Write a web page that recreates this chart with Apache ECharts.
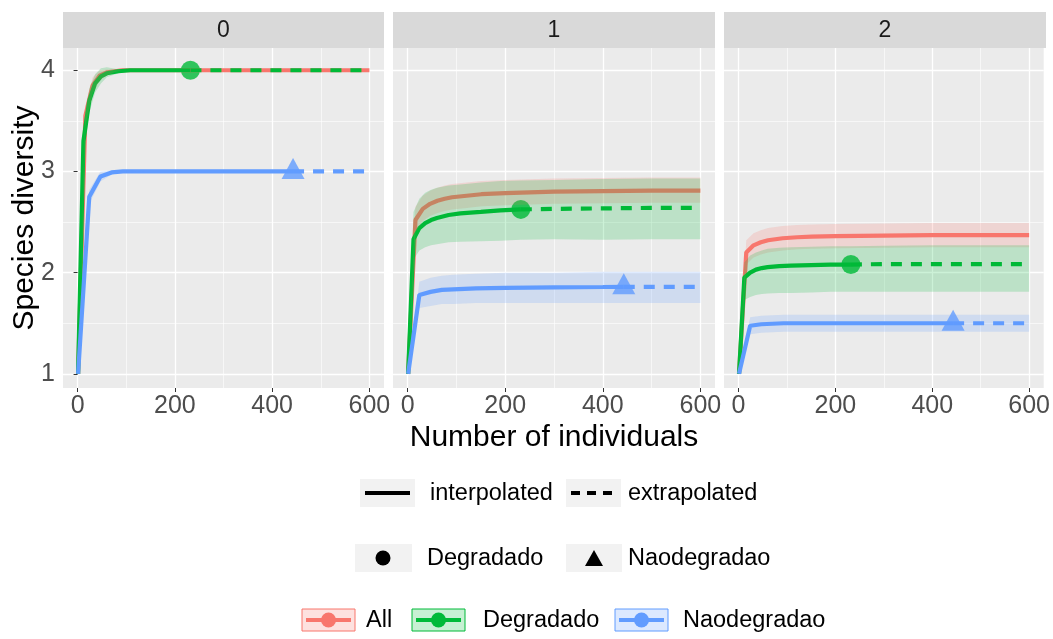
<!DOCTYPE html>
<html>
<head>
<meta charset="utf-8">
<title>Species diversity</title>
<script src="https://cdn.jsdelivr.net/npm/echarts@6/dist/echarts.min.js"></script>
<style>
html, body { margin: 0; padding: 0; background: #fff; }
#chart { width: 1053px; height: 639px; }
</style>
</head>
<body>
<div id="chart"></div>
<script>
// facets (diversity order q) and assemblages
const panels = ['0', '1', '2'];
const groups = ['All', 'Degradado', 'Naodegradao'];
const groupColors = ['#F8766D', '#00BA38', '#619CFF'];
const observedSize = [675, 232, 443];
const pointShape = [null, 'circle', 'triangle'];

// sample sizes (x) for each assemblage
const sizeAll = [1, 16, 31, 46, 61, 76, 91, 121, 151, 200, 300, 400, 500, 600];
const sizeDeg = [1, 12, 24, 36, 48, 60, 84, 108, 150, 190, 232, 300, 400, 500, 600];
const sizeNao = [1, 24, 47, 70, 93, 140, 200, 300, 400, 443, 500, 600];

// q = 0
const allQ0 = [1, 3.55, 3.85, 3.95, 3.98, 3.99, 4, 4, 4, 4, 4, 4, 4, 4];
const allQ0Lo = [1, 3.45, 3.77, 3.9, 3.95, 3.98, 4, 4, 4, 4, 4, 4, 4, 4];
const allQ0Hi = [1, 3.65, 3.93, 4.0, 4.01, 4.0, 4, 4, 4, 4, 4, 4, 4, 4];
const degQ0 = [1, 3.3, 3.7, 3.87, 3.94, 3.97, 3.99, 4, 4, 4, 4, 4, 4, 4, 4];
const degQ0Lo = [1, 3.15, 3.58, 3.78, 3.87, 3.93, 3.97, 3.99, 4, 4, 4, 4, 4, 4, 4];
const degQ0Hi = [1, 3.45, 3.82, 3.96, 4.02, 4.03, 4.01, 4.01, 4, 4, 4, 4, 4, 4, 4];
const naoQ0 = [1, 2.75, 2.95, 2.99, 3, 3, 3, 3, 3, 3, 3, 3];
const naoQ0Lo = [1, 2.68, 2.9, 2.97, 2.99, 3, 3, 3, 3, 3, 3, 3];
const naoQ0Hi = [1, 2.82, 3.0, 3.01, 3.01, 3, 3, 3, 3, 3, 3, 3];

// q = 1
const allQ1 = [1, 2.52, 2.63, 2.68, 2.71, 2.73, 2.745, 2.76, 2.775, 2.785, 2.8, 2.805, 2.81, 2.81];
const allQ1Lo = [1, 2.4, 2.51, 2.56, 2.59, 2.61, 2.625, 2.64, 2.655, 2.665, 2.68, 2.685, 2.69, 2.69];
const allQ1Hi = [1, 2.65, 2.76, 2.81, 2.84, 2.86, 2.875, 2.89, 2.905, 2.915, 2.93, 2.935, 2.94, 2.94];
const degQ1 = [1, 2.33, 2.44, 2.49, 2.52, 2.54, 2.57, 2.585, 2.6, 2.615, 2.625, 2.63, 2.635, 2.64, 2.64];
const degQ1Lo = [1, 2.13, 2.22, 2.25, 2.27, 2.28, 2.3, 2.305, 2.31, 2.315, 2.325, 2.33, 2.325, 2.33, 2.33];
const degQ1Hi = [1, 2.6, 2.73, 2.79, 2.82, 2.84, 2.86, 2.87, 2.89, 2.905, 2.91, 2.915, 2.925, 2.93, 2.93];
const naoQ1 = [1, 1.78, 1.81, 1.83, 1.835, 1.845, 1.85, 1.855, 1.858, 1.86, 1.86, 1.86];
const naoQ1Lo = [1, 1.65, 1.67, 1.69, 1.69, 1.7, 1.7, 1.7, 1.7, 1.7, 1.7, 1.7];
const naoQ1Hi = [1, 1.91, 1.95, 1.97, 1.98, 1.99, 2.0, 2.0, 2.01, 2.01, 2.01, 2.01];

// q = 2
const allQ2 = [1, 2.2, 2.27, 2.3, 2.32, 2.33, 2.34, 2.35, 2.355, 2.36, 2.365, 2.37, 2.37, 2.37];
const allQ2Lo = [1, 2.08, 2.15, 2.18, 2.2, 2.21, 2.22, 2.23, 2.235, 2.24, 2.245, 2.25, 2.25, 2.25];
const allQ2Hi = [1, 2.32, 2.39, 2.42, 2.44, 2.45, 2.46, 2.47, 2.475, 2.48, 2.485, 2.49, 2.49, 2.49];
const degQ2 = [1, 1.95, 2.0, 2.03, 2.045, 2.055, 2.065, 2.07, 2.075, 2.08, 2.08, 2.085, 2.085, 2.085, 2.085];
const degQ2Lo = [1, 1.73, 1.76, 1.78, 1.79, 1.795, 1.8, 1.8, 1.805, 1.81, 1.81, 1.81, 1.81, 1.81, 1.81];
const degQ2Hi = [1, 2.1, 2.17, 2.2, 2.22, 2.235, 2.245, 2.25, 2.255, 2.26, 2.26, 2.265, 2.27, 2.27, 2.27];
const naoQ2 = [1, 1.475, 1.49, 1.495, 1.5, 1.5, 1.5, 1.5, 1.5, 1.5, 1.5, 1.5];
const naoQ2Lo = [1, 1.39, 1.405, 1.41, 1.415, 1.415, 1.415, 1.415, 1.415, 1.415, 1.415, 1.415];
const naoQ2Hi = [1, 1.56, 1.575, 1.58, 1.585, 1.585, 1.585, 1.585, 1.585, 1.585, 1.585, 1.585];

const xTicks = [0, 200, 400, 600];
const xMinorTicks = [100, 300, 500];
const yTicks = [1, 2, 3, 4];
const yMinorTicks = [1.5, 2.5, 3.5];

// table used to build the series: [panel][group]
const sizes = [sizeAll, sizeDeg, sizeNao];
const curves = [
  [[allQ0, allQ0Lo, allQ0Hi], [degQ0, degQ0Lo, degQ0Hi], [naoQ0, naoQ0Lo, naoQ0Hi]],
  [[allQ1, allQ1Lo, allQ1Hi], [degQ1, degQ1Lo, degQ1Hi], [naoQ1, naoQ1Lo, naoQ1Hi]],
  [[allQ2, allQ2Lo, allQ2Hi], [degQ2, degQ2Lo, degQ2Hi], [naoQ2, naoQ2Lo, naoQ2Hi]]
];

const FONT = '"Liberation Sans", Arial, sans-serif';
const gridLeft = [63, 393, 724];
const gridWidth = [321, 322, 322];
const gridTop = 48;
const gridHeight = 340;
const LINE_W = 4.2;

let myChart = echarts.init(document.getElementById('chart'));

let grid = [], xAxis = [], yAxis = [], series = [];

panels.forEach(function (p, i) {
  grid.push({
    left: gridLeft[i], top: gridTop, width: gridWidth[i], height: gridHeight,
    show: true, backgroundColor: '#EBEBEB', borderWidth: 0
  });
  // main x axis
  xAxis.push({
    gridIndex: i, type: 'value', min: -30, max: 630, position: 'bottom',
    axisLine: { show: false },
    axisTick: { show: true, customValues: xTicks, length: 4, lineStyle: { color: '#333333', width: 1 } },
    axisLabel: { customValues: xTicks, color: '#4D4D4D', fontSize: 25, fontFamily: FONT, margin: 6 },
    splitLine: { show: true, lineStyle: { color: '#FFFFFF', width: 1.3 } }
  });
  // main y axis
  yAxis.push({
    gridIndex: i, type: 'value', min: 0.86, max: 4.22,
    axisLine: { show: false },
    axisTick: { show: i === 0, customValues: yTicks, length: 4, lineStyle: { color: '#333333', width: 1 } },
    axisLabel: { show: i === 0, customValues: yTicks, color: '#4D4D4D', fontSize: 25, fontFamily: FONT, margin: 8 },
    splitLine: { show: true, lineStyle: { color: '#FFFFFF', width: 1.3 } }
  });
});

// minor grid lines via hidden axes
panels.forEach(function (p, i) {
  xAxis.push({
    gridIndex: i, type: 'value', min: -30, max: 630, position: 'top',
    axisLine: { show: false },
    axisTick: { show: false, customValues: xMinorTicks },
    axisLabel: { show: false },
    splitLine: { show: true, lineStyle: { color: '#FFFFFF', width: 0.6 } }
  });
  yAxis.push({
    gridIndex: i, type: 'value', min: 0.86, max: 4.22, position: 'right',
    axisLine: { show: false },
    axisTick: { show: false, customValues: yMinorTicks },
    axisLabel: { show: false },
    splitLine: { show: true, lineStyle: { color: '#FFFFFF', width: 0.6 } }
  });
});

panels.forEach(function (p, i) {
  groups.forEach(function (g, k) {
    const xs = sizes[k];
    const est = curves[i][k][0];
    const n = observedSize[k];
    const color = groupColors[k];
    const interp = [], extrap = [];
    xs.forEach(function (x, j) {
      if (x <= n) interp.push([x, est[j]]);
      if (x >= n) extrap.push([x, est[j]]);
    });
    // observed point
    if (pointShape[k]) {
      const j = xs.indexOf(n);
      series.push({
        name: g, type: 'scatter', xAxisIndex: i, yAxisIndex: i,
        data: [[n, est[j]]],
        symbol: pointShape[k],
        symbolSize: k === 1 ? 19 : [23, 21],
        symbolOffset: k === 1 ? [0, 0] : [0, -3],
        itemStyle: { color: color },
        z: 2, silent: true
      });
    }
    series.push({
      name: g, type: 'line', xAxisIndex: i, yAxisIndex: i,
      data: interp, showSymbol: false,
      lineStyle: { color: color, width: LINE_W, type: 'solid', cap: 'butt' },
      z: 3, silent: true
    });
    if (extrap.length > 1) {
      series.push({
        name: g, type: 'line', xAxisIndex: i, yAxisIndex: i,
        data: extrap, showSymbol: false,
        lineStyle: { color: color, width: LINE_W, type: [11, 9], cap: 'butt' },
        z: 3, silent: true
      });
    }
  });
  // confidence bands drawn on top, as ggplot does
  groups.forEach(function (g, k) {
    const xs = sizes[k];
    const lo = curves[i][k][1], hi = curves[i][k][2];
    const band = xs.map(function (x, j) { return [x, lo[j], hi[j]]; });
    series.push({
      name: g + ' band', type: 'custom', xAxisIndex: i, yAxisIndex: i,
      data: band, silent: true, z: 4,
      encode: { x: 0, y: [1, 2] },
      renderItem: function (params, api) {
        if (params.dataIndex !== 0) return null;
        const top = band.map(function (d) { return api.coord([d[0], d[2]]); });
        const bot = band.map(function (d) { return api.coord([d[0], d[1]]); }).reverse();
        return {
          type: 'polygon',
          shape: { points: top.concat(bot) },
          style: { fill: groupColors[k], opacity: 0.2 }
        };
      }
    });
  });
});

// strips, axis titles, legends
let graphic = [];
panels.forEach(function (p, i) {
  graphic.push({
    type: 'rect', left: gridLeft[i], top: 12,
    shape: { width: gridWidth[i], height: 36 },
    style: { fill: '#D9D9D9' }, silent: true
  });
  graphic.push({
    type: 'text', x: gridLeft[i] + gridWidth[i] / 2, y: 31,
    style: { text: p, fill: '#1A1A1A', font: '23px ' + FONT, align: 'center', verticalAlign: 'middle' },
    silent: true
  });
});
graphic.push({
  type: 'text', x: 554, y: 438,
  style: { text: 'Number of individuals', fill: '#000', font: '30px ' + FONT, align: 'center', verticalAlign: 'middle' }
});
graphic.push({
  type: 'text', x: 25, y: 218, rotation: Math.PI / 2,
  style: { text: 'Species diversity', fill: '#000', font: '30px ' + FONT, align: 'center', verticalAlign: 'middle' }
});

function keyBox(x, y, w, h) {
  return { type: 'rect', shape: { x: x, y: y, width: w, height: h }, style: { fill: '#F2F2F2' }, silent: true };
}
function legendText(x, y, t) {
  return { type: 'text', x: x, y: y, style: { text: t, fill: '#000', font: '23.5px ' + FONT, verticalAlign: 'middle' }, silent: true };
}
// row 1: line types
graphic.push(keyBox(360, 479, 55, 28));
graphic.push({ type: 'line', shape: { x1: 365, y1: 493, x2: 410, y2: 493 }, style: { stroke: '#000', lineWidth: LINE_W } });
graphic.push(legendText(430, 494, 'interpolated'));
graphic.push(keyBox(566, 479, 55, 28));
graphic.push({ type: 'line', shape: { x1: 571, y1: 493, x2: 617, y2: 493 }, style: { stroke: '#000', lineWidth: LINE_W, lineDash: [9, 7] } });
graphic.push(legendText(628, 494, 'extrapolated'));
// row 2: shapes
graphic.push(keyBox(355, 544, 57, 28));
graphic.push({ type: 'circle', shape: { cx: 383, cy: 558, r: 7.5 }, style: { fill: '#000' } });
graphic.push(legendText(427, 559, 'Degradado'));
graphic.push(keyBox(566, 544, 56, 28));
graphic.push({ type: 'polygon', shape: { points: [[585, 566], [603, 566], [594, 550]] }, style: { fill: '#000' } });
graphic.push(legendText(628, 559, 'Naodegradao'));
// row 3: groups
const keyX = [302, 412, 615];
const textX = [366, 483, 683];
groups.forEach(function (g, k) {
  const c = groupColors[k];
  graphic.push({
    type: 'rect', shape: { x: keyX[k], y: 609, width: 53, height: 22 },
    style: { fill: echarts.color.modifyAlpha(c, 0.22), stroke: c, lineWidth: 1 }
  });
  graphic.push({ type: 'line', shape: { x1: keyX[k] + 4, y1: 620, x2: keyX[k] + 49, y2: 620 }, style: { stroke: c, lineWidth: 4 } });
  graphic.push({ type: 'circle', shape: { cx: keyX[k] + 26.5, cy: 620, r: 7.5 }, style: { fill: c } });
  graphic.push(legendText(textX[k], 621, g));
});

let option = {
  backgroundColor: '#FFFFFF',
  animation: false,
  grid: grid,
  xAxis: xAxis,
  yAxis: yAxis,
  series: series,
  graphic: graphic
};
myChart.setOption(option);
</script>
</body>
</html>
